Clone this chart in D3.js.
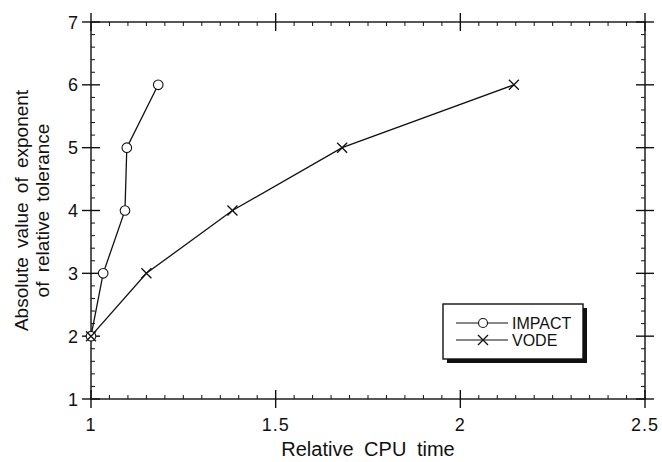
<!DOCTYPE html>
<html>
<head>
<meta charset="utf-8">
<script src="https://cdn.jsdelivr.net/npm/d3@7"></script>
<style>
  body { margin: 0; background: #fff; }
  text { font-family: "Liberation Sans", Arial, sans-serif; fill: #111; }
</style>
</head>
<body>
<svg id="chart"></svg>
<script>
// DATOS
const tolerance = [2, 3, 4, 5, 6];
const impactTime = [1.0, 1.033, 1.092, 1.097, 1.182];
const vodeTime = [1.0, 1.15, 1.383, 1.68, 2.145];
const xTicks = [1, 1.5, 2, 2.5];
const yTicks = [1, 2, 3, 4, 5, 6, 7];

const width = 662, height = 462;
const margin = { top: 22, right: 17, bottom: 63, left: 91 };

const svg = d3.select("#chart").attr("width", width).attr("height", height);

// ESCALAS
const x = d3.scaleLinear().domain([1, 2.5]).range([margin.left, width - margin.right]);
const y = d3.scaleLinear().domain([1, 7]).range([height - margin.bottom, margin.top]);

const x0 = x.range()[0], x1 = x.range()[1];
const y0 = y.range()[0], y1 = y.range()[1];

// MARCO
const frame = svg.append("g").attr("stroke", "#111").attr("stroke-width", 1.4);
frame.append("rect")
  .attr("x", x0).attr("y", y1)
  .attr("width", x1 - x0).attr("height", y0 - y1)
  .attr("fill", "none");

// TICKS MENORES (hacia dentro)
const xMinor = d3.range(0, 31).map(i => 1 + i * 0.05).filter(v => !xTicks.some(t => Math.abs(t - v) < 1e-6));
const yMinor = d3.range(0, 31).map(i => 1 + i * 0.2).filter(v => !yTicks.some(t => Math.abs(t - v) < 1e-6));
const mn = 4, mj = 9;

xMinor.forEach(v => {
  frame.append("line").attr("x1", x(v)).attr("x2", x(v)).attr("y1", y0).attr("y2", y0 - mn).attr("stroke-width", 1);
  frame.append("line").attr("x1", x(v)).attr("x2", x(v)).attr("y1", y1).attr("y2", y1 + mn).attr("stroke-width", 1);
});
yMinor.forEach(v => {
  frame.append("line").attr("y1", y(v)).attr("y2", y(v)).attr("x1", x0).attr("x2", x0 + mn).attr("stroke-width", 1);
  frame.append("line").attr("y1", y(v)).attr("y2", y(v)).attr("x1", x1).attr("x2", x1 - mn).attr("stroke-width", 1);
});

// TICKS MAYORES (cruzan el eje)
xTicks.forEach(v => {
  frame.append("line").attr("x1", x(v)).attr("x2", x(v)).attr("y1", y0 - mj).attr("y2", y0 + mj);
  frame.append("line").attr("x1", x(v)).attr("x2", x(v)).attr("y1", y1 - mj).attr("y2", y1 + mj);
});
yTicks.forEach(v => {
  frame.append("line").attr("y1", y(v)).attr("y2", y(v)).attr("x1", x0 - mj).attr("x2", x0 + mj);
  frame.append("line").attr("y1", y(v)).attr("y2", y(v)).attr("x1", x1 - mj).attr("x2", x1 + mj);
});

// ETIQUETAS DE TICKS
svg.selectAll(".xt").data(xTicks).enter().append("text")
  .attr("x", d => x(d)).attr("y", y0 + 32)
  .attr("text-anchor", "middle").attr("font-size", 18).attr("letter-spacing", 1)
  .text(d => d);
svg.selectAll(".yt").data(yTicks).enter().append("text")
  .attr("x", x0 - 13).attr("y", d => y(d) + 6.5)
  .attr("text-anchor", "end").attr("font-size", 18)
  .text(d => d);

// TITULOS DE EJES
svg.append("text")
  .attr("x", (x0 + x1) / 2).attr("y", 456)
  .attr("text-anchor", "middle").attr("font-size", 20).attr("word-spacing", 5)
  .text("Relative CPU time");

const yl = svg.append("text")
  .attr("transform", `translate(28, ${(y0 + y1) / 2}) rotate(-90)`)
  .attr("text-anchor", "middle").attr("font-size", 19).attr("word-spacing", 4);
yl.append("tspan").attr("x", 0).attr("dy", 0).text("Absolute value of exponent");
yl.append("tspan").attr("x", 0).attr("dy", 21).text("of relative tolerance");

// LINEAS
const impact = tolerance.map((t, i) => ({ x: impactTime[i], y: t }));
const vode = tolerance.map((t, i) => ({ x: vodeTime[i], y: t }));
const line = d3.line().x(d => x(d.x)).y(d => y(d.y));

[impact, vode].forEach(s => {
  svg.append("path").datum(s).attr("d", line)
    .attr("fill", "none").attr("stroke", "#111").attr("stroke-width", 1.3);
});

// MARCADORES
const r = 4.8, c = 5;
svg.selectAll(".circ").data(impact).enter().append("circle")
  .attr("cx", d => x(d.x)).attr("cy", d => y(d.y)).attr("r", r)
  .attr("fill", "#fff").attr("stroke", "#111").attr("stroke-width", 1.1);

const cross = (g, cx, cy) => {
  g.append("path")
    .attr("d", `M${cx - c},${cy - c}L${cx + c},${cy + c}M${cx - c},${cy + c}L${cx + c},${cy - c}`)
    .attr("stroke", "#111").attr("stroke-width", 1.3).attr("fill", "none");
};
vode.forEach(d => cross(svg, x(d.x), y(d.y)));

// LEYENDA
const lg = svg.append("g");
lg.append("rect").attr("x", 447).attr("y", 308).attr("width", 140).attr("height", 55).attr("fill", "#111");
lg.append("rect").attr("x", 443).attr("y", 304).attr("width", 140).attr("height", 55)
  .attr("fill", "#fff").attr("stroke", "#111").attr("stroke-width", 1.4);

const items = [
  { name: "IMPACT", y: 323, mark: "circle" },
  { name: "VODE", y: 340, mark: "cross" }
];
items.forEach(it => {
  lg.append("line").attr("x1", 456).attr("x2", 508).attr("y1", it.y).attr("y2", it.y)
    .attr("stroke", "#111").attr("stroke-width", 1.2);
  if (it.mark === "circle") {
    lg.append("circle").attr("cx", 483).attr("cy", it.y).attr("r", 4.5)
      .attr("fill", "#fff").attr("stroke", "#111").attr("stroke-width", 1.1);
  } else {
    cross(lg, 483, it.y);
  }
  lg.append("text").attr("x", 512).attr("y", it.y + 6).attr("font-size", 16).text(it.name);
});
</script>
</body>
</html>
